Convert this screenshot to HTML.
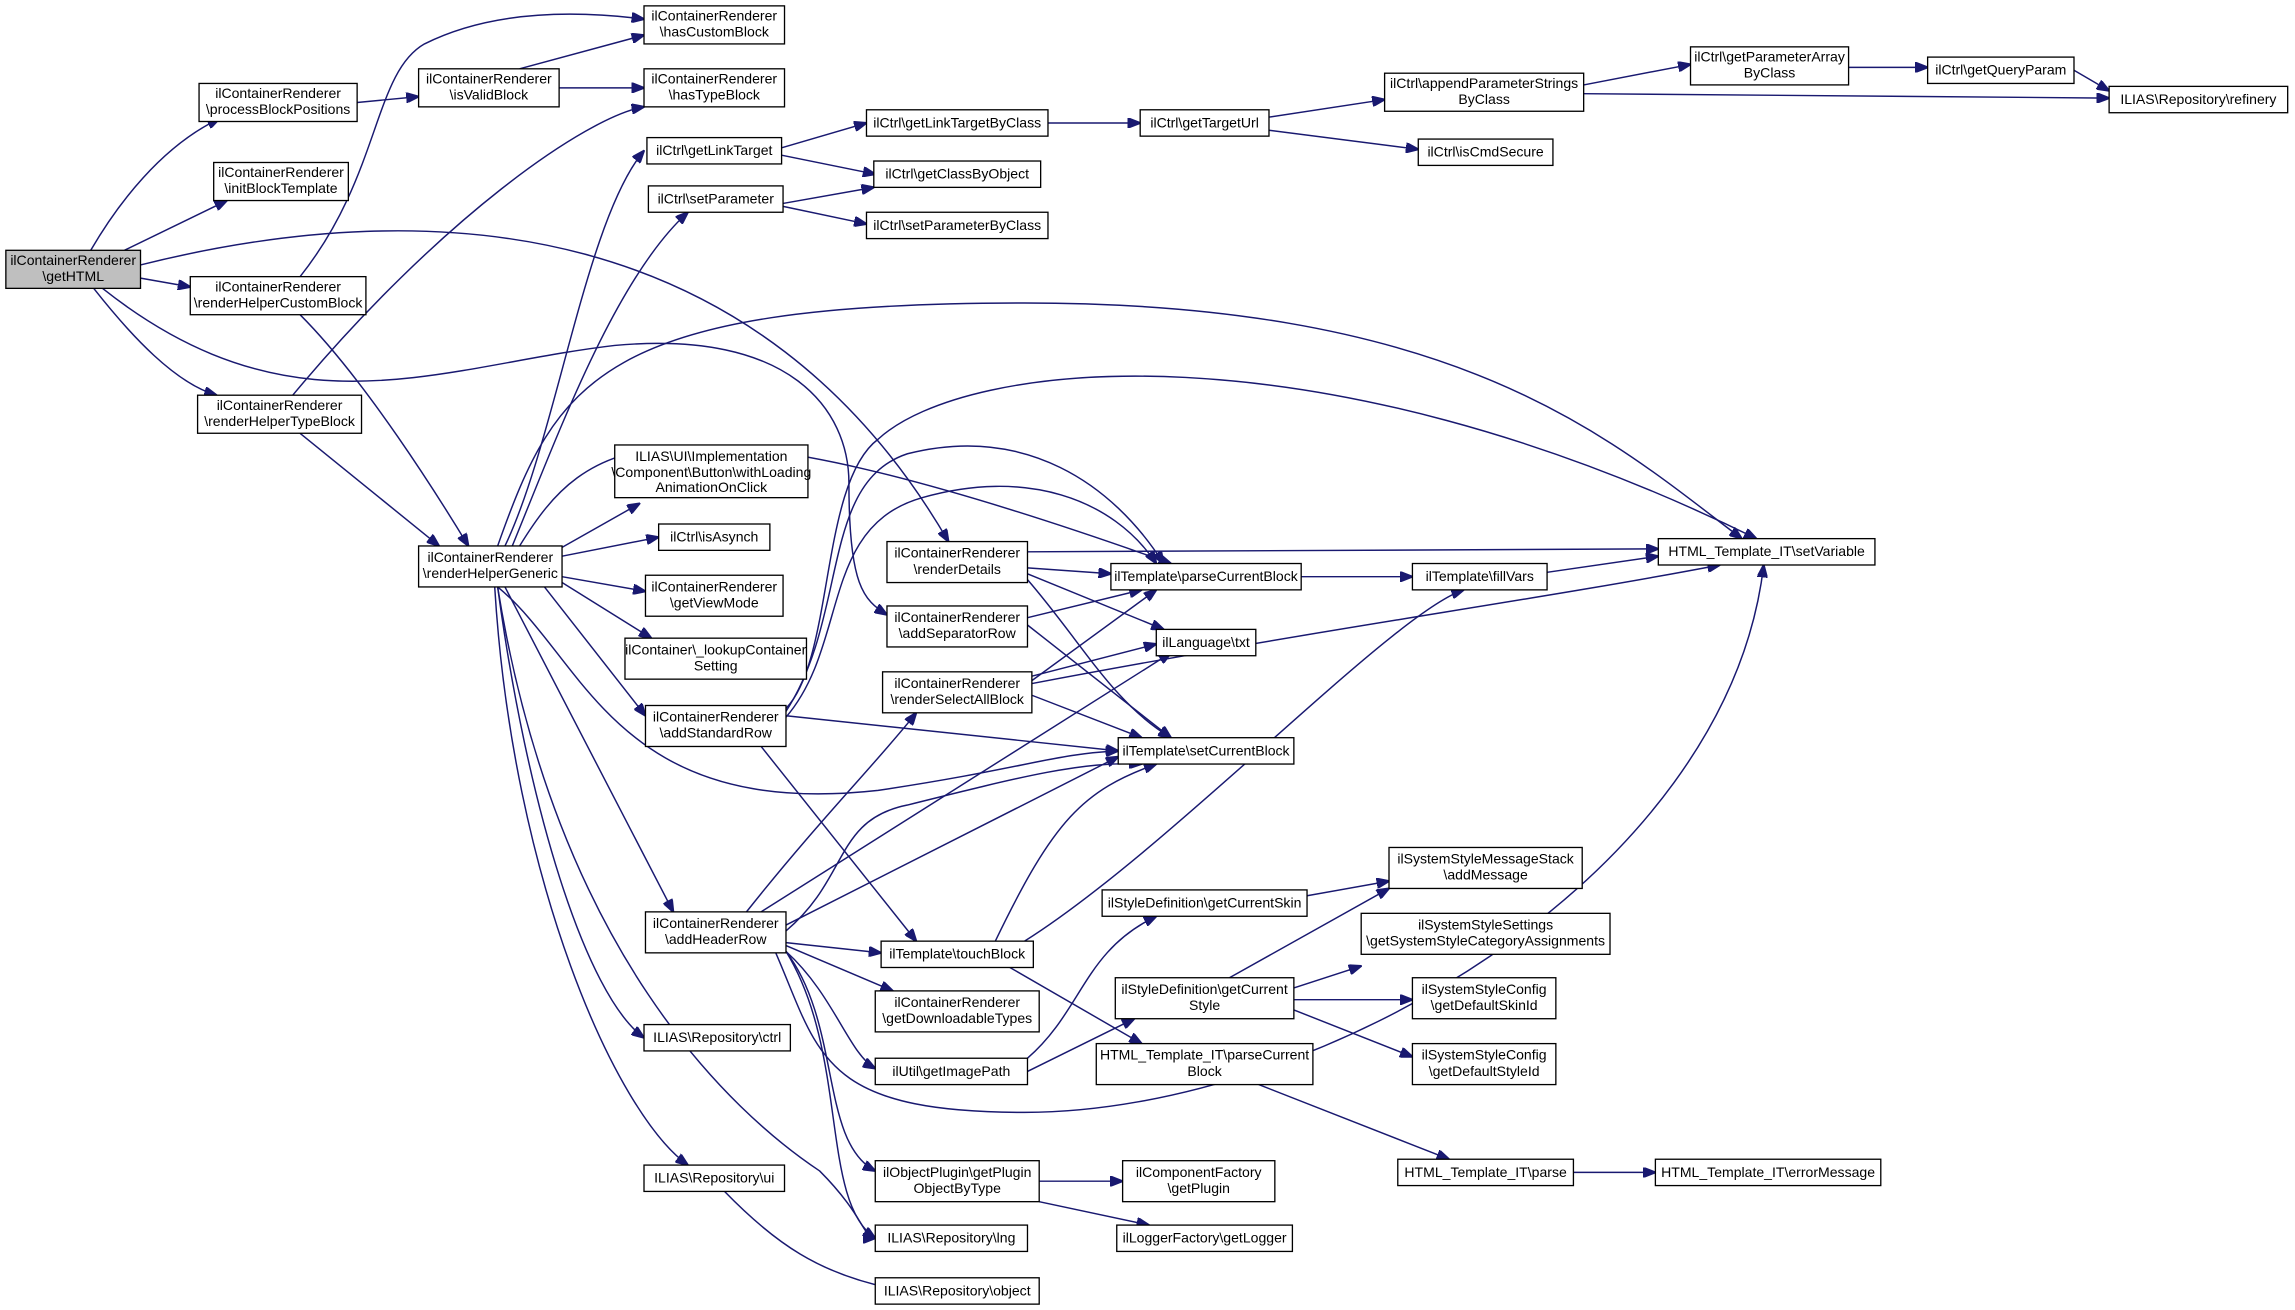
<!DOCTYPE html>
<html><head><meta charset="utf-8"><style>html,body{margin:0;padding:0;background:#fff}svg{display:block}text{font-family:"Liberation Sans",Arial,sans-serif;font-size:9.6px;fill:#000;text-anchor:middle}rect{fill:#fff;stroke:#000;stroke-width:0.9}path{fill:none;stroke:#191970;stroke-width:1}</style></head><body>
<svg width="2295" height="1310" viewBox="0 0 1568 895" xmlns="http://www.w3.org/2000/svg">
<defs><marker id="a" markerWidth="9" markerHeight="7" refX="8.5" refY="3.5" orient="auto" markerUnits="userSpaceOnUse"><path d="M0,0L9,3.5L0,7z" style="fill:#191970;stroke:#191970"/></marker></defs>
<g marker-end="url(#a)">
<path d="M62,171C80,140 110,100 150,81"/>
<path d="M85,171L155,137"/>
<path d="M96,190L130,196"/>
<path d="M64,197C90,230 120,262 148,270"/>
<path d="M96,181C300,130 520,150 648,370"/>
<path d="M70,197C200,300 300,250 420,236C540,225 580,280 580,330C580,400 590,410 606,420"/>
<path d="M244,70L286,66"/>
<path d="M355,47L440,24"/>
<path d="M382,60L440,60"/>
<path d="M205,189C260,120 255,50 290,30C340,5 400,8 440,13"/>
<path d="M205,215C250,260 300,340 320,373"/>
<path d="M200,270C300,150 400,80 440,73"/>
<path d="M205,296L300,373"/>
<path d="M345,373C380,300 400,150 440,103"/>
<path d="M350,373C380,300 420,190 470,145"/>
<path d="M340,373C380,260 410,207 700,207C1000,207 1100,300 1190,368"/>
<path d="M355,373C400,300 450,260 800,385"/>
<path d="M384,374L437,344"/>
<path d="M384,380L450,367"/>
<path d="M384,394L441,404"/>
<path d="M384,398L445,436"/>
<path d="M372,401L441,489"/>
<path d="M340,401C400,450 420,560 600,540C700,525 720,515 764,513"/>
<path d="M345,401L460,623"/>
<path d="M340,401C360,550 400,680 440,709"/>
<path d="M338,401C350,600 420,760 470,796"/>
<path d="M340,401C380,650 500,760 560,800C590,830 590,846 598,846"/>
<path d="M534,101L592,84"/>
<path d="M534,106L598,119"/>
<path d="M535,139L597,128"/>
<path d="M535,141L592,153"/>
<path d="M716,84L779,84"/>
<path d="M867,80L946,68"/>
<path d="M867,89L969,102"/>
<path d="M1082,58L1155,44"/>
<path d="M1082,64L1441,67"/>
<path d="M1263,46L1317,46"/>
<path d="M1417,48L1441,62"/>
<path d="M702,377L1133,375"/>
<path d="M702,388L759,392"/>
<path d="M702,392L795,430"/>
<path d="M702,396C740,440 760,480 800,504"/>
<path d="M702,422L780,403"/>
<path d="M702,427L800,504"/>
<path d="M705,462L790,440"/>
<path d="M705,465L790,403"/>
<path d="M705,475L780,504"/>
<path d="M705,467C900,430 1050,410 1175,386"/>
<path d="M537,489L764,513"/>
<path d="M537,490C580,440 560,360 630,340C700,320 760,340 790,385"/>
<path d="M537,486C580,420 560,330 620,310C700,290 760,330 795,385"/>
<path d="M537,484C570,450 560,330 600,300C660,245 900,220 1200,368"/>
<path d="M520,510L626,643"/>
<path d="M537,632L764,517"/>
<path d="M510,623C560,560 600,520 626,487"/>
<path d="M520,623L800,446"/>
<path d="M537,644L602,651"/>
<path d="M537,646L610,677"/>
<path d="M537,650C570,680 580,720 598,730"/>
<path d="M537,650C575,700 560,780 598,800"/>
<path d="M537,650C580,720 560,820 598,846"/>
<path d="M530,651C560,720 560,760 700,760C900,760 1180,600 1205,386"/>
<path d="M537,636C580,600 570,560 620,550C700,530 740,520 780,522"/>
<path d="M680,643C720,560 740,540 790,522"/>
<path d="M700,643C800,580 950,420 1000,403"/>
<path d="M690,661L780,713"/>
<path d="M889,394L965,394"/>
<path d="M1057,391L1133,380"/>
<path d="M702,723C740,690 740,650 790,626"/>
<path d="M702,732L775,696"/>
<path d="M893,612L949,602"/>
<path d="M840,668L949,607"/>
<path d="M884,675L930,660"/>
<path d="M884,683L965,683"/>
<path d="M884,690L965,722"/>
<path d="M860,741L990,792"/>
<path d="M1075,801L1131,801"/>
<path d="M710,807L767,807"/>
<path d="M710,821L785,837"/>
<path d="M495,814C530,850 560,870 608,880"/>
</g>
<rect x="4" y="171" width="92" height="26" style="fill:#bfbfbf"/><text x="50" y="181">ilContainerRenderer</text><text x="50" y="192">\getHTML</text>
<rect x="136" y="57" width="108" height="26"/><text x="190" y="67">ilContainerRenderer</text><text x="190" y="78">\processBlockPositions</text>
<rect x="146" y="111" width="92" height="26"/><text x="192" y="121">ilContainerRenderer</text><text x="192" y="132">\initBlockTemplate</text>
<rect x="130" y="189" width="120" height="26"/><text x="190" y="199">ilContainerRenderer</text><text x="190" y="210">\renderHelperCustomBlock</text>
<rect x="135" y="270" width="112" height="26"/><text x="191" y="280">ilContainerRenderer</text><text x="191" y="291">\renderHelperTypeBlock</text>
<rect x="286" y="47" width="96" height="26"/><text x="334" y="57">ilContainerRenderer</text><text x="334" y="68">\isValidBlock</text>
<rect x="440" y="4" width="96" height="26"/><text x="488" y="14">ilContainerRenderer</text><text x="488" y="25">\hasCustomBlock</text>
<rect x="440" y="47" width="96" height="26"/><text x="488" y="57">ilContainerRenderer</text><text x="488" y="68">\hasTypeBlock</text>
<rect x="442" y="94" width="92" height="18"/><text x="488" y="106">ilCtrl\getLinkTarget</text>
<rect x="443" y="127" width="92" height="18"/><text x="489" y="139">ilCtrl\setParameter</text>
<rect x="592" y="75" width="124" height="18"/><text x="654" y="87">ilCtrl\getLinkTargetByClass</text>
<rect x="597" y="110" width="114" height="18"/><text x="654" y="122">ilCtrl\getClassByObject</text>
<rect x="592" y="145" width="124" height="18"/><text x="654" y="157">ilCtrl\setParameterByClass</text>
<rect x="779" y="75" width="88" height="18"/><text x="823" y="87">ilCtrl\getTargetUrl</text>
<rect x="946" y="50" width="136" height="26"/><text x="1014" y="60">ilCtrl\appendParameterStrings</text><text x="1014" y="71">ByClass</text>
<rect x="969" y="95" width="92" height="18"/><text x="1015" y="107">ilCtrl\isCmdSecure</text>
<rect x="1155" y="32" width="108" height="26"/><text x="1209" y="42">ilCtrl\getParameterArray</text><text x="1209" y="53">ByClass</text>
<rect x="1317" y="39" width="100" height="18"/><text x="1367" y="51">ilCtrl\getQueryParam</text>
<rect x="1441" y="59" width="122" height="18"/><text x="1502" y="71">ILIAS\Repository\refinery</text>
<rect x="286" y="373" width="98" height="28"/><text x="335" y="384">ilContainerRenderer</text><text x="335" y="395">\renderHelperGeneric</text>
<rect x="420" y="304" width="132" height="36"/><text x="486" y="315">ILIAS\UI\Implementation</text><text x="486" y="326">\Component\Button\withLoading</text><text x="486" y="336">AnimationOnClick</text>
<rect x="450" y="358" width="76" height="18"/><text x="488" y="370">ilCtrl\isAsynch</text>
<rect x="441" y="393" width="94" height="28"/><text x="488" y="404">ilContainerRenderer</text><text x="488" y="415">\getViewMode</text>
<rect x="427" y="436" width="124" height="28"/><text x="489" y="447">ilContainer\_lookupContainer</text><text x="489" y="458">Setting</text>
<rect x="441" y="482" width="96" height="28"/><text x="489" y="493">ilContainerRenderer</text><text x="489" y="504">\addStandardRow</text>
<rect x="441" y="623" width="96" height="28"/><text x="489" y="634">ilContainerRenderer</text><text x="489" y="645">\addHeaderRow</text>
<rect x="440" y="700" width="100" height="18"/><text x="490" y="712">ILIAS\Repository\ctrl</text>
<rect x="440" y="796" width="96" height="18"/><text x="488" y="808">ILIAS\Repository\ui</text>
<rect x="598" y="873" width="112" height="18"/><text x="654" y="885">ILIAS\Repository\object</text>
<rect x="606" y="370" width="96" height="28"/><text x="654" y="381">ilContainerRenderer</text><text x="654" y="392">\renderDetails</text>
<rect x="606" y="414" width="96" height="28"/><text x="654" y="425">ilContainerRenderer</text><text x="654" y="436">\addSeparatorRow</text>
<rect x="603" y="459" width="102" height="28"/><text x="654" y="470">ilContainerRenderer</text><text x="654" y="481">\renderSelectAllBlock</text>
<rect x="759" y="385" width="130" height="18"/><text x="824" y="397">ilTemplate\parseCurrentBlock</text>
<rect x="790" y="430" width="68" height="18"/><text x="824" y="442">ilLanguage\txt</text>
<rect x="764" y="504" width="120" height="18"/><text x="824" y="516">ilTemplate\setCurrentBlock</text>
<rect x="602" y="643" width="104" height="18"/><text x="654" y="655">ilTemplate\touchBlock</text>
<rect x="598" y="677" width="112" height="28"/><text x="654" y="688">ilContainerRenderer</text><text x="654" y="699">\getDownloadableTypes</text>
<rect x="598" y="723" width="104" height="18"/><text x="650" y="735">ilUtil\getImagePath</text>
<rect x="598" y="793" width="112" height="28"/><text x="654" y="804">ilObjectPlugin\getPlugin</text><text x="654" y="815">ObjectByType</text>
<rect x="598" y="837" width="104" height="18"/><text x="650" y="849">ILIAS\Repository\lng</text>
<rect x="767" y="793" width="104" height="28"/><text x="819" y="804">ilComponentFactory</text><text x="819" y="815">\getPlugin</text>
<rect x="763" y="837" width="120" height="18"/><text x="823" y="849">ilLoggerFactory\getLogger</text>
<rect x="753" y="608" width="140" height="18"/><text x="823" y="620">ilStyleDefinition\getCurrentSkin</text>
<rect x="762" y="668" width="122" height="28"/><text x="823" y="679">ilStyleDefinition\getCurrent</text><text x="823" y="690">Style</text>
<rect x="749" y="713" width="148" height="28"/><text x="823" y="724">HTML_Template_IT\parseCurrent</text><text x="823" y="735">Block</text>
<rect x="965" y="385" width="92" height="18"/><text x="1011" y="397">ilTemplate\fillVars</text>
<rect x="1133" y="368" width="148" height="18"/><text x="1207" y="380">HTML_Template_IT\setVariable</text>
<rect x="949" y="579" width="132" height="28"/><text x="1015" y="590">ilSystemStyleMessageStack</text><text x="1015" y="601">\addMessage</text>
<rect x="930" y="624" width="170" height="28"/><text x="1015" y="635">ilSystemStyleSettings</text><text x="1015" y="646">\getSystemStyleCategoryAssignments</text>
<rect x="965" y="668" width="98" height="28"/><text x="1014" y="679">ilSystemStyleConfig</text><text x="1014" y="690">\getDefaultSkinId</text>
<rect x="965" y="713" width="98" height="28"/><text x="1014" y="724">ilSystemStyleConfig</text><text x="1014" y="735">\getDefaultStyleId</text>
<rect x="955" y="792" width="120" height="18"/><text x="1015" y="804">HTML_Template_IT\parse</text>
<rect x="1131" y="792" width="154" height="18"/><text x="1208" y="804">HTML_Template_IT\errorMessage</text>
</svg>
</body></html>
